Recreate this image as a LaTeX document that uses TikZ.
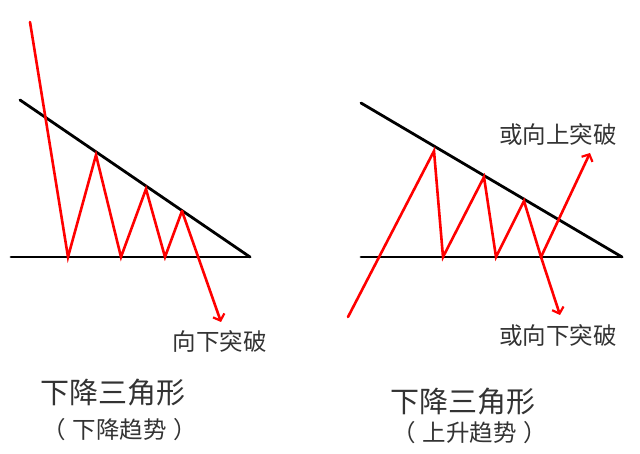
\documentclass[tikz,border=0pt]{standalone}
\usepackage{fontspec}
\newfontfamily\cjk{Noto Sans CJK SC}
\usetikzlibrary{arrows.meta}
\begin{document}
\begin{tikzpicture}[x=1pt,y=-1pt,
  bound/.style={black,line width=2.8pt,line cap=round},
  price/.style={red,line width=2.6pt,line join=miter,line cap=round},
  brk/.style={price,-{Straight Barb[length=5.5pt,width=12pt,line width=2.2pt]}},
  lbl/.style={inner sep=0pt,text=black!80,font=\cjk\fontsize{23.5}{23.5}\selectfont},
  ttl/.style={inner sep=0pt,text=black!80,font=\cjk\fontsize{29}{29}\selectfont},
  sub/.style={inner sep=0pt,text=black!80,font=\cjk\fontsize{23.5}{23.5}\selectfont}]
\useasboundingbox[fill=white] (0,0) rectangle (640,454);
% ---- left panel ----
\coordinate (LU1) at (20,100);
\coordinate (LU2) at (250,257);
\coordinate (LB1) at (11,257);
\coordinate (LA) at (30,22);
\coordinate (LB) at (68,257);
\coordinate (LC) at (96,155);
\coordinate (LD) at (121,257);
\coordinate (LE) at (146,189);
\coordinate (LF) at (165,257);
\coordinate (LG) at (182,211);
\coordinate (LH) at (221,322);
\draw[bound] (LU1) -- (LU2);
\draw[bound] (LB1) -- (LU2);
\draw[price] (LA) -- (LB) -- (LC) -- (LD) -- (LE) -- (LF) -- (LG);
\draw[brk] (LG) -- (LH);
\node[lbl] (ldown) at (219.5,341) {向下突破};
\node[ttl] (ltitle) at (112.5,393) {下降三角形};
\node[sub] (lsub) at (120,430) {（\hspace{7pt}下降趋势\hspace{7pt}）};
% ---- right panel ----
\coordinate (RU1) at (361,103);
\coordinate (RU2) at (622,257);
\coordinate (RB1) at (361,257);
\coordinate (RA) at (348,317);
\coordinate (RB) at (434,151);
\coordinate (RC) at (443,257);
\coordinate (RD) at (484,177);
\coordinate (RE) at (496,257);
\coordinate (RF) at (524,201);
\coordinate (RG) at (541,257);
\coordinate (RUP) at (590,153);
\coordinate (RDN) at (560,315);
\draw[bound] (RU1) -- (RU2);
\draw[bound] (RB1) -- (RU2);
\draw[price] (RA) -- (RB) -- (RC) -- (RD) -- (RE) -- (RF) -- (RG);
\draw[brk] (RG) -- (RUP);
\draw[brk] (RG) -- (RDN);
\node[lbl] (rup) at (558,135) {或向上突破};
\node[lbl] (rdown) at (558,335) {或向下突破};
\node[ttl] (rtitle) at (463,402) {下降三角形};
\node[sub] (rsub) at (470,433) {（\hspace{7pt}上升趋势\hspace{7pt}）};
\end{tikzpicture}
\end{document}
